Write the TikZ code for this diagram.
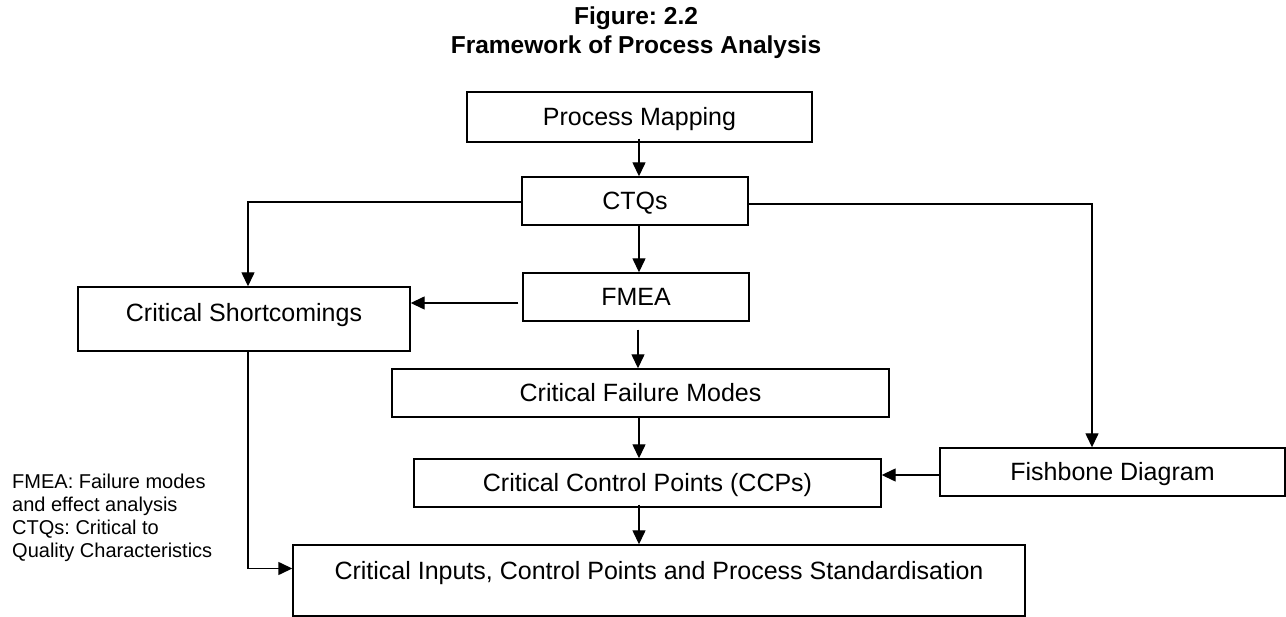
\documentclass[tikz,border=0pt]{standalone}
\usepackage{fontspec}
\setmainfont{Liberation Sans}
\frenchspacing
\usetikzlibrary{arrows.meta,calc}
\tikzset{
  box/.style={draw, line width=1.4pt, inner sep=0pt, text height=18pt, text depth=0pt,
    font=\fontsize{25}{30}\selectfont},
  arr/.style={line width=1.4pt, -{Triangle[length=14pt,width=13pt]}},
  ttl/.style={font=\fontsize{24.5}{29}\bfseries\selectfont, inner sep=0pt},
  legend/.style={font=\fontsize{20}{23}\selectfont, align=left, inner sep=0pt, anchor=north west}
}
\begin{document}
\begin{tikzpicture}[x=1pt,y=-1pt]
\useasboundingbox (0,0) rectangle (1286,617);
% titles
\node[ttl] (t1) at (636,18) {Figure: 2.2};
\node[ttl] (t2) at (636,47) {Framework of Process Analysis};
% boxes
\node[box, minimum width=345pt, minimum height=50pt] (pm) at (639.5,117) {Process Mapping};
\node[box, minimum width=226pt, minimum height=48pt] (ctq) at (635,201) {CTQs};
\node[box, minimum width=226pt, minimum height=48pt] (fmea) at (636,297) {FMEA};
\node[box, minimum width=332pt, minimum height=64pt, text depth=12pt] (cs) at (244,319) {Critical Shortcomings};
\node[box, minimum width=497pt, minimum height=48pt] (cfm) at (640.5,393) {Critical Failure Modes};
\node[box, minimum width=467pt, minimum height=48pt] (ccp) at (647.5,483) {Critical Control Points (CCPs)};
\node[box, minimum width=345pt, minimum height=48pt] (fish) at (1112.5,472) {Fishbone Diagram};
\node[box, minimum width=732pt, minimum height=71pt, text depth=21pt] (bot) at (659,580.5) {Critical Inputs, Control Points and Process Standardisation};
% legend
\node[legend] (leg) at (12,474) {FMEA: Failure modes\\and effect analysis\\CTQs: Critical to\\Quality Characteristics};
% helper x positions
\coordinate (xa) at (639,0);
\coordinate (xb) at (638,0);
\coordinate (xc) at (1092,0);
\coordinate (xd) at (248,0);
% connectors
\draw[arr] ([yshift=4pt]pm.south -| xa) -- (ctq.north -| xa);
\draw[arr] (ctq.south -| xa) -- (fmea.north -| xa);
\draw[arr] ([yshift=-1pt]ctq.west) -| (cs.north -| xd);
\draw[arr] ([yshift=-3pt]ctq.east) -| (fish.north -| xc);
\draw[arr] ([xshift=-4pt,yshift=-6pt]fmea.west) -- ([yshift=-6pt]fmea.west -| cs.east);
\draw[arr] ([yshift=-8pt]fmea.south -| xb) -- (cfm.north -| xb);
\draw[arr] (cfm.south -| xa) -- (ccp.north -| xa);
\draw[arr] ([yshift=3pt]ccp.south -| xa) -- (bot.north -| xa);
\draw[arr] ([yshift=-3pt]fish.west) -- ([yshift=-3pt]fish.west -| ccp.east);
\draw[arr] (cs.south -| xd) |- ([yshift=12pt]bot.west);
\end{tikzpicture}
\end{document}
